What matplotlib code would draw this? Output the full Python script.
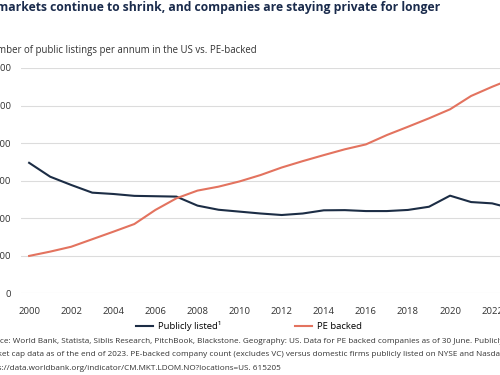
import matplotlib
matplotlib.use("Agg")
import matplotlib.pyplot as plt
from matplotlib.ticker import FuncFormatter

plt.rcParams['font.family'] = ['Open Sans', 'DejaVu Sans']

years = list(range(2000, 2024))
public_listed = [6950, 6210, 5770, 5360, 5290, 5190, 5170, 5150, 4670, 4450,
                 4350, 4250, 4170, 4250, 4420, 4430, 4380, 4380, 4440, 4610,
                 5200, 4860, 4790, 4500]
pe_backed = [1990, 2220, 2480, 2880, 3280, 3690, 4440, 5060, 5470, 5680,
             5960, 6300, 6700, 7040, 7360, 7670, 7930, 8430, 8870, 9320,
             9800, 10510, 11000, 11450]
xticks = list(range(2000, 2024, 2))
yticks = [0, 2000, 4000, 6000, 8000, 10000, 12000]

title = "Public markets continue to shrink, and companies are staying private for longer"
subtitle = "Number of public listings per annum in the US vs. PE-backed"
notes = [
    "Source: World Bank, Statista, Siblis Research, PitchBook, Blackstone. Geography: US. Data for PE backed companies as of 30 June. Publicly listed",
    "market cap data as of the end of 2023. PE-backed company count (excludes VC) versus domestic firms publicly listed on NYSE and Nasdaq.",
    "https://data.worldbank.org/indicator/CM.MKT.LDOM.NO?locations=US. 615205",
]

navy = "#1c2d45"
red = "#e3735f"
grey = "#333333"

W, H = 500, 375
fig = plt.figure(figsize=(5, 3.75), dpi=100)
ax = fig.add_axes([20.7 / W, 1 - 293.3 / H, 500.9 / W, 225.3 / H])

l1, = ax.plot(years, public_listed, color=navy, lw=1.5, label="Publicly listed\u00b9")
l2, = ax.plot(years, pe_backed, color=red, lw=1.5, label="PE backed")

ax.set_xlim(1999.6, 2023.4)
ax.set_ylim(0, 12000)
ax.set_xticks(xticks)
ax.set_yticks(yticks)
ax.yaxis.set_major_formatter(FuncFormatter(lambda v, p: f"{int(v):,}"))
ax.grid(axis='y', color="#dcdcdc", lw=0.8)
ax.set_axisbelow(True)
for s in ax.spines.values():
    s.set_visible(False)
ax.tick_params(axis='both', length=0, labelsize=6.8, labelcolor=grey)
ax.tick_params(axis='y', pad=7)
ax.tick_params(axis='x', pad=10)

fig.legend(handles=[l1, l2], loc='center', bbox_to_anchor=(249 / W, 1 - 326 / H),
           ncol=2, frameon=False, fontsize=6.8, handlelength=1.8,
           handletextpad=0.55, columnspacing=7.8)

fig.text(440 / W, 1 - 8 / H, title, ha='right', va='center', fontsize=8.75,
         weight='bold', color="#1a2b4c")
fig.text(257 / W, 1 - 51 / H, subtitle, ha='right', va='center', fontsize=6.95,
         color=grey)
for i, line in enumerate(notes):
    fig.text(-18 / W, 1 - (341.5 + 13.5 * i) / H, line, ha='left', va='center',
             fontsize=5.9, color=grey)

fig.savefig("out.png", dpi=100)
